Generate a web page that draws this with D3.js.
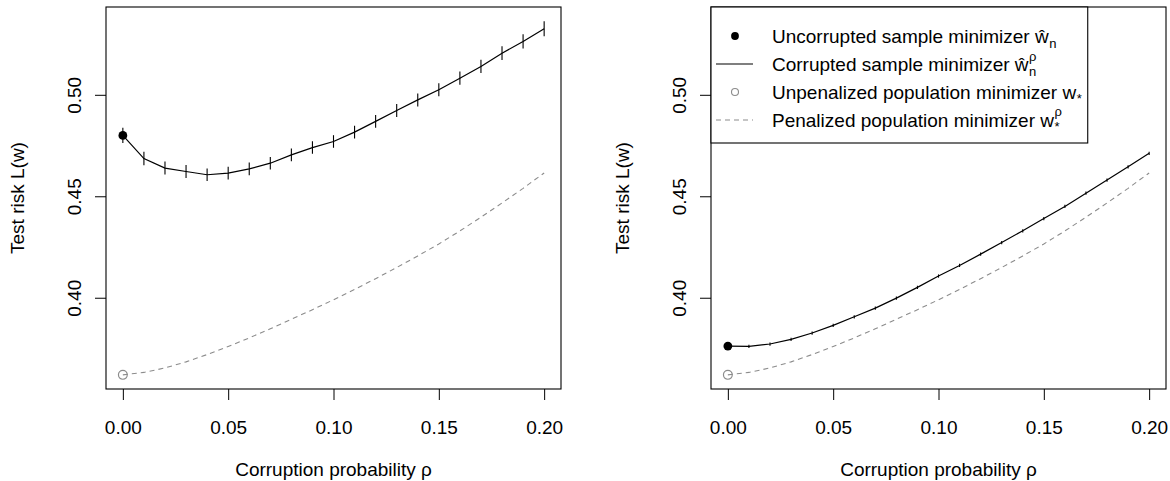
<!DOCTYPE html>
<html>
<head>
<meta charset="utf-8">
<script src="https://cdn.jsdelivr.net/npm/d3@7"></script>
<style>
  html, body { margin: 0; padding: 0; background: #fff; }
  svg { display: block; font-family: "Liberation Sans", Arial, Helvetica, sans-serif; }
</style>
</head>
<body>
<svg id="chart" width="1170" height="481"></svg>
<script>
// ---------------- data ----------------
const rho = [0.00,0.01,0.02,0.03,0.04,0.05,0.06,0.07,0.08,0.09,0.10,
             0.11,0.12,0.13,0.14,0.15,0.16,0.17,0.18,0.19,0.20];

// left panel: corrupted sample minimizer (mean test risk and error half-width)
const leftMean = [0.4800,0.4686,0.4639,0.4622,0.4606,0.4614,0.4635,0.4663,0.4704,0.4740,0.4770,
                  0.4816,0.4869,0.4923,0.4975,0.5025,0.5082,0.5140,0.5205,0.5263,0.5326];
const leftErr  = [0.0038,0.0033,0.0032,0.0032,0.0031,0.0031,0.0031,0.0031,0.0031,0.0031,0.0031,
                  0.0031,0.0031,0.0032,0.0032,0.0032,0.0033,0.0033,0.0034,0.0035,0.0037];

// right panel: corrupted sample minimizer
const rightMean = [0.3762,0.3760,0.3772,0.3795,0.3826,0.3864,0.3906,0.3949,0.3998,0.4051,0.4107,
                   0.4159,0.4215,0.4272,0.4330,0.4390,0.4450,0.4515,0.4580,0.4645,0.4712];
const rightErr  = [0.0008,0.0008,0.0008,0.0008,0.0008,0.0008,0.0008,0.0008,0.0008,0.0008,0.0008,
                   0.0008,0.0008,0.0008,0.0008,0.0008,0.0008,0.0008,0.0008,0.0008,0.0008];

// penalized population minimizer (dashed grey curve, same in both panels)
const penalized = [0.3620,0.3632,0.3654,0.3684,0.3720,0.3760,0.3802,0.3847,0.3894,0.3941,0.3990,
                   0.4041,0.4094,0.4149,0.4206,0.4265,0.4329,0.4397,0.4467,0.4539,0.4615];

// unpenalized population minimizer (open circle at rho = 0)
const unpenalized = 0.3620;

const xTicks = [0.00, 0.05, 0.10, 0.15, 0.20];
const yTicks = [0.40, 0.45, 0.50];

const xTitle = "Corruption probability \u03C1";
const yTitle = "Test risk L(w)";

const legendLabels = [
  {main: "Uncorrupted sample minimizer \u0175", sub: "n", sup: null},
  {main: "Corrupted sample minimizer \u0175", sub: "n", sup: "\u03C1"},
  {main: "Unpenalized population minimizer w", sub: "*", sup: null},
  {main: "Penalized population minimizer w", sub: "*", sup: "\u03C1"}
];

// ---------------- layout ----------------
const svg = d3.select("#chart");
svg.append("rect").attr("width", 1170).attr("height", 481).attr("fill", "#fff");

const FS = 19;
const SFS = 13;
const GREY = "#8c8c8c";

// R-like 4% axis extension
function rExt(lo, hi) { const p = (hi - lo) * 0.04; return [lo - p, hi + p]; }

const yLo = d3.min([d3.min(penalized), unpenalized, d3.min(rightMean.map((m, i) => m - rightErr[i]))]);
const yHi = d3.max(leftMean.map((m, i) => m + leftErr[i]));
const yDom = rExt(yLo, yHi);
const xDom = rExt(d3.min(rho), d3.max(rho));

const panels = [
  {left: 106, mean: leftMean, err: leftErr, legend: false},
  {left: 711, mean: rightMean, err: rightErr, legend: true}
];
const plotTop = 7, plotBottom = 389, plotWidth = 455;

panels.forEach(p => {
  const x = d3.scaleLinear().domain(xDom).range([p.left, p.left + plotWidth]);
  const y = d3.scaleLinear().domain(yDom).range([plotBottom, plotTop]);
  const g = svg.append("g");

  // x axis
  const xa = g.append("g").attr("transform", `translate(0,${plotBottom})`)
    .call(d3.axisBottom(x).tickValues(xTicks).tickFormat(d3.format(".2f")).tickSize(11).tickSizeOuter(0));
  xa.select(".domain").remove();
  xa.selectAll(".tick line").attr("stroke", "#000").attr("stroke-width", 1);
  xa.selectAll(".tick text").attr("y", 45).attr("dy", 0).attr("fill", "#000")
    .attr("font-size", FS).attr("font-family", "Liberation Sans, Arial, sans-serif");

  // y axis
  const ya = g.append("g").attr("transform", `translate(${p.left},0)`)
    .call(d3.axisLeft(y).tickValues(yTicks).tickFormat(d3.format(".2f")).tickSize(11).tickSizeOuter(0));
  ya.select(".domain").remove();
  ya.selectAll(".tick line").attr("stroke", "#000").attr("stroke-width", 1);
  ya.selectAll(".tick text").attr("x", 0).attr("dy", 0)
    .attr("transform", "translate(-25,0) rotate(-90)")
    .attr("text-anchor", "middle").attr("fill", "#000")
    .attr("font-size", FS).attr("font-family", "Liberation Sans, Arial, sans-serif");

  // titles
  g.append("text").attr("x", p.left + plotWidth / 2).attr("y", 476)
    .attr("text-anchor", "middle").attr("font-size", FS).text(xTitle);
  g.append("text").attr("transform", `translate(${p.left - 82},${(plotTop + plotBottom) / 2}) rotate(-90)`)
    .attr("text-anchor", "middle").attr("font-size", FS).text(yTitle);

  // dashed penalized curve
  g.append("path").datum(rho.map((r, i) => [r, penalized[i]]))
    .attr("fill", "none").attr("stroke", GREY).attr("stroke-width", 1.1)
    .attr("stroke-dasharray", "5,4")
    .attr("d", d3.line().x(d => x(d[0])).y(d => y(d[1])));

  // unpenalized open circle
  g.append("circle").attr("cx", x(rho[0])).attr("cy", y(unpenalized)).attr("r", 4.4)
    .attr("fill", "none").attr("stroke", GREY).attr("stroke-width", 1.2);

  // corrupted sample minimizer line
  g.append("path").datum(rho.map((r, i) => [r, p.mean[i]]))
    .attr("fill", "none").attr("stroke", "#000").attr("stroke-width", 1.2)
    .attr("d", d3.line().x(d => x(d[0])).y(d => y(d[1])));

  // error bars
  g.selectAll("line.err").data(rho).enter().append("line").attr("class", "err")
    .attr("x1", d => x(d)).attr("x2", d => x(d))
    .attr("y1", (d, i) => y(p.mean[i] - p.err[i]))
    .attr("y2", (d, i) => y(p.mean[i] + p.err[i]))
    .attr("stroke", "#000").attr("stroke-width", 1.1);

  // uncorrupted point
  g.append("circle").attr("cx", x(rho[0])).attr("cy", y(p.mean[0])).attr("r", 4.4).attr("fill", "#000");

  // box
  g.append("rect").attr("x", p.left).attr("y", plotTop).attr("width", plotWidth).attr("height", plotBottom - plotTop)
    .attr("fill", "none").attr("stroke", "#000").attr("stroke-width", 1.1);

  if (p.legend) {
    const lg = svg.append("g");
    const rows = [36, 64, 92, 120];
    const bx0 = p.left, by0 = plotTop, by1 = 143;
    const box = lg.append("rect").attr("x", bx0).attr("y", by0).attr("height", by1 - by0)
      .attr("fill", "#fff").attr("stroke", "#000").attr("stroke-width", 1.1);
    const sx = 735, tx = 772;
    lg.append("circle").attr("cx", sx).attr("cy", rows[0]).attr("r", 3.9).attr("fill", "#000");
    lg.append("line").attr("x1", 716).attr("x2", 753).attr("y1", rows[1]).attr("y2", rows[1])
      .attr("stroke", "#000").attr("stroke-width", 1.2);
    lg.append("circle").attr("cx", sx).attr("cy", rows[2]).attr("r", 3.5)
      .attr("fill", "none").attr("stroke", GREY).attr("stroke-width", 1.1);
    lg.append("line").attr("x1", 716).attr("x2", 753).attr("y1", rows[3]).attr("y2", rows[3])
      .attr("stroke", GREY).attr("stroke-width", 1.1).attr("stroke-dasharray", "5,4");

    let maxEnd = 0;
    legendLabels.forEach((L, i) => {
      const base = rows[i] + 7;
      const t = lg.append("text").attr("x", tx).attr("y", base).attr("font-size", FS);
      const m = t.append("tspan").text(L.main);
      const w = m.node().getComputedTextLength();
      const subDy = L.sub === "*" ? 4 : 5;
      const supDy = L.sub === "*" ? -11 : -10;
      const s = t.append("tspan").attr("x", tx + w + 0.5).attr("dy", subDy)
        .attr("font-size", SFS).text(L.sub);
      let end = tx + w + 0.5 + s.node().getComputedTextLength();
      if (L.sup) {
        const u = t.append("tspan").attr("x", tx + w + 0.5).attr("dy", supDy - subDy)
          .attr("font-size", SFS).text(L.sup);
        end = Math.max(end, tx + w + 0.5 + u.node().getComputedTextLength());
      }
      maxEnd = Math.max(maxEnd, end);
    });
    box.attr("width", Math.max(342, maxEnd + 6 - bx0));
  }
});
</script>
</body>
</html>
